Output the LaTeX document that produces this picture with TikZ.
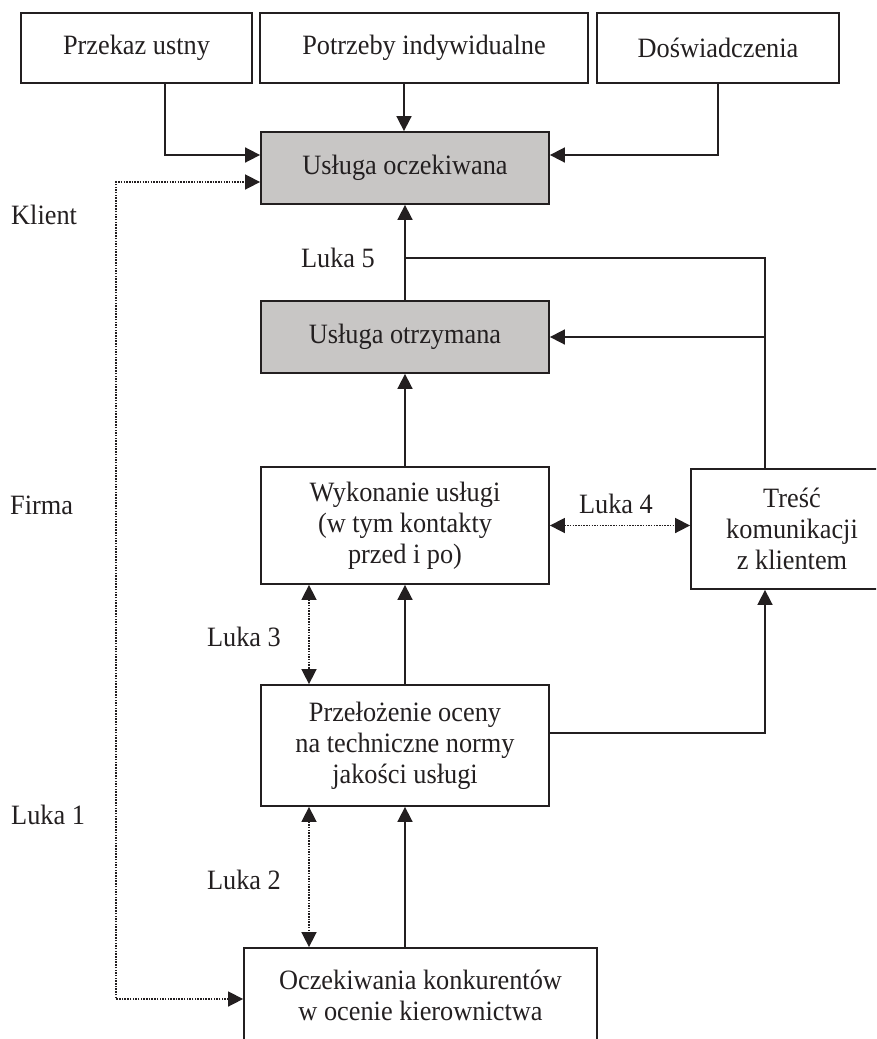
\documentclass[tikz,border=0pt]{standalone}
\usepackage{fontspec}
\setmainfont{Liberation Serif}[FakeStretch=0.94]
\usetikzlibrary{arrows.meta}
\definecolor{ink}{RGB}{35,31,32}
\definecolor{boxgray}{RGB}{200,198,197}
\tikzset{
  every node/.style={font=\fontsize{28}{31}\selectfont, text=ink},
  box/.style={draw=ink, line width=1.8pt, rectangle, align=center, inner sep=0pt},
  shaded/.style={box, fill=boxgray},
  lbl/.style={inner sep=0pt},
  conn/.style={draw=ink, line width=1.7pt},
  arr/.style={conn, -{Triangle[length=15pt,width=15pt]}},
  gap/.style={draw=ink, line width=1.6pt, dash pattern=on 1.5pt off 1.2pt,
    {Triangle[length=15pt,width=15pt]}-{Triangle[length=15pt,width=15pt]}},
}
\begin{document}
\begin{tikzpicture}[x=1pt, y=-1pt]
\useasboundingbox (0,0) rectangle (876,1039);
\clip (0,0) rectangle (876,1039);

% top row: sources of expectations
\node[box, minimum width=231pt, minimum height=70pt] (przekaz) at (136.5,48) {Przekaz ustny};
\node[box, minimum width=328pt, minimum height=70pt] (potrzeby) at (424,48) {Potrzeby indywidualne};
\node[box, minimum width=242pt, minimum height=70pt] (doswiad) at (718,48) {Doświadczenia};

% client side
\node[shaded, minimum width=288pt, minimum height=72pt] (oczek) at (405,168) {Usługa oczekiwana};
\node[shaded, minimum width=288pt, minimum height=72pt] (otrzym) at (405,337) {Usługa otrzymana};

% company side
\node[box, minimum width=288pt, minimum height=117pt] (wykon) at (405,525.5)
  {Wykonanie usługi\\(w tym kontakty\\przed i po)};
\node[box, minimum width=202pt, minimum height=120pt] (tresc) at (792,529)
  {Treść\\komunikacji\\z klientem};
\node[box, minimum width=288pt, minimum height=121pt] (przeloz) at (405,745.5)
  {Przełożenie oceny\\na techniczne normy\\jakości usługi};
\node[box, minimum width=353pt, minimum height=95pt] (konkur) at (420.5,995.5)
  {Oczekiwania konkurentów\\w ocenie kierownictwa};

% side labels
\node[lbl, anchor=west] (klient) at (11,215) {Klient};
\node[lbl, anchor=west] (firma) at (10,505) {Firma};
\node[lbl, anchor=west] (luka1) at (11,815) {Luka 1};
\node[lbl] (luka5) at (338,258) {Luka 5};
\node[lbl] (luka4) at (616,504) {Luka 4};
\node[lbl] (luka3) at (244,637) {Luka 3};
\node[lbl] (luka2) at (244,880) {Luka 2};

% inputs to the expected service
\draw[arr] ([xshift=28.5pt]przekaz.south) |- ([yshift=13pt]oczek.west);
\draw[arr] ([xshift=-20pt]potrzeby.south) -- ([xshift=-20pt]potrzeby.south |- oczek.north);
\draw[arr] (doswiad.south) |- ([yshift=13pt]oczek.east);

% received -> expected, and communication feedback
\draw[arr] (otrzym.north) -- (oczek.south);
\draw[conn] ([xshift=-27pt]tresc.north) |- ([yshift=42pt]otrzym.north);
\draw[arr] ([xshift=-27pt]tresc.north |- otrzym.east) -- (otrzym.east);

% vertical chain inside the company
\draw[arr] (wykon.north) -- (otrzym.south);
\draw[arr] (przeloz.north) -- (wykon.south);
\draw[arr] (przeloz.south |- konkur.north) -- (przeloz.south);
\draw[arr] ([yshift=12.5pt]przeloz.east) -| ([xshift=-27pt]tresc.south);

% gaps
\draw[gap] (wykon.east) -- (wykon.east -| tresc.west);
\draw[gap] ([xshift=-96pt]wykon.south) -- ([xshift=-96pt]przeloz.north);
\draw[gap] ([xshift=-96pt]przeloz.south) -- ([xshift=-96pt]przeloz.south |- konkur.north);
\draw[gap] ([yshift=-3.5pt]konkur.west) -| ([xshift=-144pt,yshift=-14pt]oczek.west) -- ([yshift=-14pt]oczek.west);
\end{tikzpicture}
\end{document}
